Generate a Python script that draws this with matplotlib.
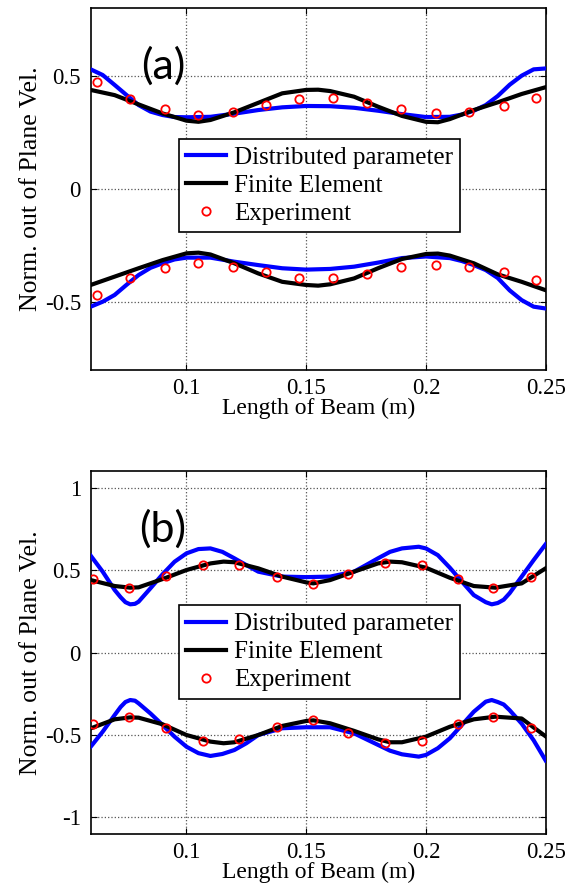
import matplotlib
matplotlib.use("Agg")
import matplotlib.pyplot as plt

plt.rcParams['font.family'] = ['Liberation Serif', 'DejaVu Serif']

# ---- panel (a) ----
a_dp_x = [0.06, 0.065, 0.07, 0.075, 0.08, 0.085, 0.09, 0.095, 0.10, 0.11, 0.12, 0.13, 0.14,
          0.15, 0.16, 0.17, 0.18, 0.19, 0.20, 0.21, 0.215, 0.22, 0.225, 0.23, 0.235, 0.24,
          0.245, 0.25]
a_dp_up = [0.528, 0.503, 0.459, 0.414, 0.370, 0.341, 0.326, 0.317, 0.316, 0.318, 0.332, 0.348,
           0.360, 0.366, 0.365, 0.358, 0.345, 0.330, 0.317, 0.318, 0.328, 0.345, 0.37, 0.41,
           0.46, 0.50, 0.528, 0.532]
a_dp_lo = [-0.522, -0.50, -0.47, -0.425, -0.382, -0.35, -0.33, -0.313, -0.305, -0.305, -0.323,
           -0.338, -0.352, -0.358, -0.355, -0.345, -0.327, -0.307, -0.300, -0.307, -0.32,
           -0.338, -0.36, -0.395, -0.45, -0.493, -0.522, -0.53]

a_fe_x = [0.06, 0.07, 0.08, 0.09, 0.10, 0.105, 0.11, 0.12, 0.13, 0.14, 0.15, 0.155, 0.16, 0.17,
          0.18, 0.19, 0.20, 0.205, 0.21, 0.22, 0.23, 0.24, 0.25]
a_fe_up = [0.437, 0.414, 0.373, 0.333, 0.301, 0.296, 0.304, 0.338, 0.38, 0.422, 0.437, 0.438,
           0.432, 0.407, 0.363, 0.322, 0.296, 0.294, 0.308, 0.348, 0.382, 0.419, 0.449]
a_fe_lo = [-0.426, -0.389, -0.352, -0.316, -0.286, -0.283, -0.291, -0.33, -0.375, -0.412,
           -0.426, -0.429, -0.423, -0.397, -0.352, -0.311, -0.289, -0.287, -0.296, -0.33,
           -0.379, -0.412, -0.449]

a_ex_x = [0.0625, 0.0764, 0.0910, 0.1050, 0.1193, 0.1331, 0.1471, 0.1613, 0.1755, 0.1897,
          0.2041, 0.2180, 0.2325, 0.2461]
a_ex_up = [0.473, 0.395, 0.352, 0.326, 0.339, 0.370, 0.395, 0.400, 0.381, 0.352, 0.336, 0.341,
           0.368, 0.401]
a_ex_lo = [-0.470, -0.394, -0.352, -0.327, -0.345, -0.367, -0.394, -0.394, -0.379, -0.348,
           -0.338, -0.345, -0.368, -0.404]

# ---- panel (b) ----
b_dp_x = [0.06, 0.065, 0.07, 0.0725, 0.0745, 0.0765, 0.0785, 0.08, 0.085, 0.09, 0.095, 0.10,
          0.105, 0.11, 0.115, 0.12, 0.125, 0.13, 0.14, 0.15, 0.16, 0.17, 0.175, 0.18, 0.185,
          0.19, 0.197, 0.20, 0.205, 0.21, 0.215, 0.22, 0.225, 0.2275, 0.23, 0.2325, 0.235,
          0.24, 0.245, 0.25]
b_dp_up = [0.587, 0.49, 0.379, 0.335, 0.305, 0.292, 0.295, 0.308, 0.39, 0.474, 0.55, 0.601,
           0.627, 0.631, 0.61, 0.571, 0.53, 0.49, 0.46, 0.457, 0.46, 0.49, 0.53, 0.571, 0.61,
           0.631, 0.641, 0.631, 0.59, 0.514, 0.43, 0.348, 0.305, 0.292, 0.30, 0.32, 0.36,
           0.46, 0.56, 0.656]
b_dp_lo = [-0.571, -0.48, -0.379, -0.33, -0.300, -0.288, -0.292, -0.308, -0.37, -0.439, -0.51,
           -0.571, -0.61, -0.627, -0.615, -0.591, -0.55, -0.5, -0.459, -0.453, -0.453, -0.49,
           -0.525, -0.56, -0.595, -0.617, -0.631, -0.621, -0.58, -0.52, -0.44, -0.359,
           -0.298, -0.288, -0.30, -0.315, -0.35, -0.431, -0.532, -0.654]

b_fe_x = [0.06, 0.07, 0.0765, 0.08, 0.09, 0.10, 0.11, 0.1155, 0.12, 0.13, 0.14, 0.15, 0.153,
          0.16, 0.17, 0.18, 0.185, 0.19, 0.20, 0.21, 0.22, 0.229, 0.24, 0.25]
b_fe_up = [0.439, 0.403, 0.393, 0.395, 0.445, 0.5, 0.54, 0.551, 0.547, 0.51, 0.46, 0.425, 0.419,
           0.439, 0.49, 0.54, 0.551, 0.547, 0.514, 0.453, 0.403, 0.393, 0.419, 0.51]
b_fe_lo = [-0.46, -0.405, -0.393, -0.395, -0.435, -0.5, -0.54, -0.55, -0.544, -0.5, -0.445,
           -0.415, -0.411, -0.429, -0.475, -0.526, -0.544, -0.544, -0.51, -0.45, -0.405,
           -0.389, -0.40, -0.508]

b_ex_x = [0.0611, 0.0761, 0.0915, 0.1068, 0.1221, 0.1377, 0.1527, 0.1676, 0.1829, 0.1982,
          0.2133, 0.2282, 0.2438]
b_ex_up = [0.443, 0.393, 0.464, 0.530, 0.530, 0.460, 0.415, 0.478, 0.544, 0.530, 0.447, 0.393,
           0.460]
b_ex_lo = [-0.435, -0.393, -0.455, -0.534, -0.524, -0.449, -0.409, -0.490, -0.551, -0.534,
           -0.433, -0.389, -0.457]

x_ticks = [0.1, 0.15, 0.2, 0.25]
x_ticklabels = ['0.1', '0.15', '0.2', '0.25']
a_yticks = [-0.5, 0, 0.5]
a_yticklabels = ['-0.5', '0', '0.5']
b_yticks = [-1, -0.5, 0, 0.5, 1]
b_yticklabels = ['-1', '-0.5', '0', '0.5', '1']
labels = ['Distributed parameter', 'Finite Element', 'Experiment']

BLUE = '#0000ff'
LW = 3.0


def draw_panel(ax, dp_x, dp_up, dp_lo, fe_x, fe_up, fe_lo, ex_x, ex_up, ex_lo,
               ylim, yticks, yticklabels, tag, leg_y):
    ax.plot(dp_x, dp_up, color=BLUE, lw=LW, label=labels[0], zorder=3)
    ax.plot(dp_x, dp_lo, color=BLUE, lw=LW, zorder=3)
    ax.plot(fe_x, fe_up, color='black', lw=LW, label=labels[1], zorder=4)
    ax.plot(fe_x, fe_lo, color='black', lw=LW, zorder=4)
    ax.plot(ex_x, ex_up, 'o', mfc='none', mec='red', ms=6, mew=1.3, label=labels[2], zorder=5)
    ax.plot(ex_x, ex_lo, 'o', mfc='none', mec='red', ms=6, mew=1.3, zorder=5)

    ax.set_xlim(0.06, 0.25)
    ax.set_ylim(*ylim)
    ax.set_xticks(x_ticks)
    ax.set_xticklabels(x_ticklabels)
    ax.set_yticks(yticks)
    ax.set_yticklabels(yticklabels)
    ax.tick_params(direction='in', top=True, right=True, labelsize=16.5, length=4)
    ax.tick_params(axis='x', pad=6)
    ax.tick_params(axis='y', pad=7)
    ax.grid(True, linestyle=':', color='#555555', lw=0.9)
    for s in ax.spines.values():
        s.set_linewidth(1.2)
    ax.set_xlabel('Length of Beam (m)', fontsize=17, labelpad=-1)
    ax.set_ylabel('Norm. out of Plane Vel.', fontsize=18.5, labelpad=2)

    leg = ax.legend(loc='center', bbox_to_anchor=(0.503, leg_y), fontsize=18,
                    fancybox=False, edgecolor='black', framealpha=1,
                    handlelength=1.6, handletextpad=0.3, labelspacing=0.22,
                    borderpad=0.3, borderaxespad=0)
    leg.get_frame().set_linewidth(1.2)

    ax.text(0.159, 0.84, tag, transform=ax.transAxes, fontsize=31,
            family=['Lato', 'DejaVu Sans'], ha='center', va='center')


fig = plt.figure(figsize=(5.8, 8.96), dpi=100)
ax_a = fig.add_axes([0.1564, 0.5876, 0.7843, 0.4036])
ax_b = fig.add_axes([0.1564, 0.0692, 0.7843, 0.4051])

draw_panel(ax_a, a_dp_x, a_dp_up, a_dp_lo, a_fe_x, a_fe_up, a_fe_lo,
           a_ex_x, a_ex_up, a_ex_lo, (-0.8, 0.8), a_yticks, a_yticklabels, '(a)', 0.509)
draw_panel(ax_b, b_dp_x, b_dp_up, b_dp_lo, b_fe_x, b_fe_up, b_fe_lo,
           b_ex_x, b_ex_up, b_ex_lo, (-1.1, 1.1), b_yticks, b_yticklabels, '(b)', 0.501)

fig.savefig('out.png', dpi=100)
